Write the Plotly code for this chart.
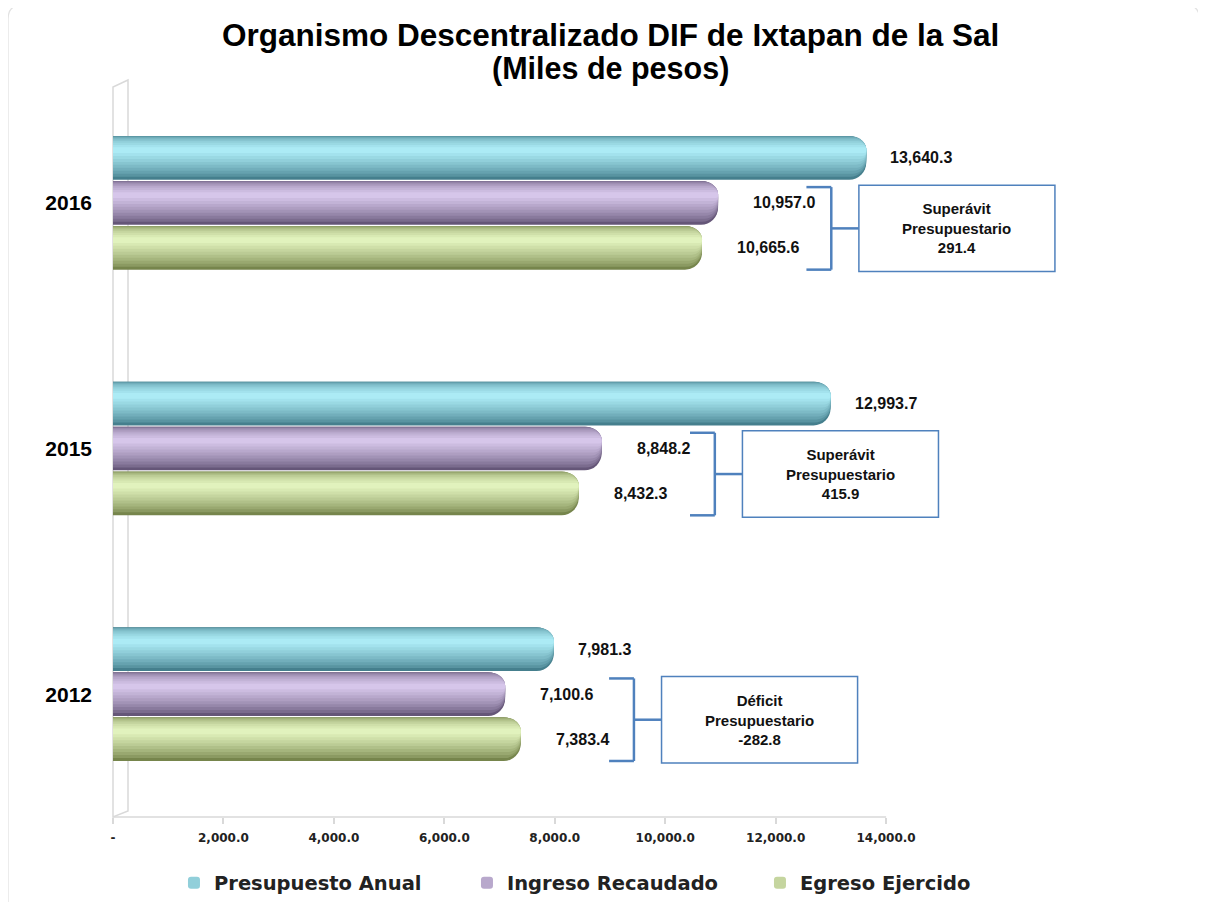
import plotly.graph_objects as go

# valores en miles de pesos
years = ["2012", "2015", "2016"]
presupuesto = [7981.3, 12993.7, 13640.3]
ingreso = [7100.6, 8848.2, 10957.0]
egreso = [7383.4, 8432.3, 10665.6]
series_names = ["Presupuesto Anual", "Ingreso Recaudado", "Egreso Ejercido"]
result_titles = ["Déficit", "Superávit", "Superávit"]
xticks = [0, 2000, 4000, 6000, 8000, 10000, 12000, 14000]
title_lines = ["Organismo Descentralizado DIF de Ixtapan de la Sal", "(Miles de pesos)"]

W, H = 1206, 906
OFF = 8  # page body margin, positions below are in screen pixels
L, R, T, B = 113 - OFF, 106.5, 80 - OFF, 906 - (817 - OFF)
pw, ph = W - L - R, H - T - B


def px(x):
    return (x - OFF - L) / pw


def py(y):
    return (H - B - (y - OFF)) / ph


def mix(c1, c2, t):
    a = [int(c1[i:i + 2], 16) for i in (1, 3, 5)]
    b = [int(c2[i:i + 2], 16) for i in (1, 3, 5)]
    return "#" + "".join(f"{round(p + (q - p) * t):02x}" for p, q in zip(a, b))


bar_h = 0.178
step = 0.183
# dark / light ends of each cylinder shading
shades = {
    "Presupuesto Anual": ("#457f8d", "#b4f4fe"),
    "Ingreso Recaudado": ("#655678", "#dfcff3"),
    "Egreso Ejercido": ("#76854c", "#eafbc6"),
}
n_layers = 10
hl = 0.32  # highlight position from the top of the bar

ypos = list(range(len(years)))
series = [presupuesto, ingreso, egreso]
offsets = [step, 0.0, -step]

fig = go.Figure()
for name, vals, off in zip(series_names, series, offsets):
    dark, light = shades[name]
    for k in range(n_layers):
        t = k / n_layers
        top = hl * t ** 2          # fraction from top
        bot = 1 - (1 - hl) * t     # fraction from top
        w = bar_h * (bot - top)
        start = off + bar_h / 2 - bot * bar_h
        fig.add_trace(go.Bar(
            x=vals, y=ypos, orientation="h",
            width=w, offset=start,
            marker=dict(color=mix(dark, light, t ** 0.75), line=dict(width=0),
                        cornerradius="40%"),
            name=name, legendgroup=name, showlegend=(k == 6),
            hoverinfo="x+name",
        ))

annotations = []
label_shift = [22, 33, 33]
for vals, off, xs in zip(series, offsets, label_shift):
    for i, v in enumerate(vals):
        annotations.append(dict(
            x=v, y=i + off, xref="x", yref="y", text=f"{v:,.1f}",
            xanchor="left", yanchor="middle", xshift=xs, showarrow=False,
            font=dict(family="Liberation Sans, Arial", size=16, color="#111", weight="bold"),
        ))

shapes = []
line_c = "#4f81bd"
for i in ypos:
    diff = ingreso[i] - egreso[i]
    top = i + bar_h / 2 - 0.025
    bot = i - step - bar_h / 2
    mid = (top + bot) / 2
    bx = max(ingreso[i], egreso[i]) + 2050
    for x0, y0, x1, y1 in [(bx, bot, bx, top), (bx - 450, top, bx, top),
                           (bx - 450, bot, bx, bot), (bx, mid, bx + 500, mid)]:
        shapes.append(dict(type="line", xref="x", yref="y", x0=x0, y0=y0, x1=x1, y1=y1,
                           line=dict(color=line_c, width=2.5)))
    shapes.append(dict(type="rect", xref="x", yref="y", x0=bx + 500, x1=bx + 4050,
                       y0=bot - 0.008, y1=top + 0.008, line=dict(color=line_c, width=1.5),
                       fillcolor="white"))
    annotations.append(dict(
        x=bx + 2275, y=mid, xref="x", yref="y", showarrow=False,
        text=f"{result_titles[i]}<br>Presupuestario<br>{diff:,.1f}",
        font=dict(family="Liberation Sans, Arial", size=15, color="#111", weight="bold"),
    ))

# title, two lines
for line, yc, size in zip(title_lines, [35, 68], [31.5, 30.5]):
    annotations.append(dict(
        x=0.5, xref="paper", y=py(yc), yref="paper", xanchor="center", yanchor="middle",
        showarrow=False, text=line,
        font=dict(family="Liberation Sans, Arial", size=size, color="#000", weight="bold"),
    ))

# 3D wall and floor
wall = (f"M {px(113)},{py(817)} L {px(113)},{py(87)} L {px(128)},{py(80)} "
        f"L {px(128)},{py(811)} Z")
shapes.append(dict(type="path", xref="paper", yref="paper", path=wall,
                   line=dict(color="#d9d9d9", width=1.5), layer="below"))
shapes.append(dict(type="line", xref="x", yref="paper", x0=0, x1=14000, y0=0, y1=0,
                   line=dict(color="#d9d9d9", width=1.5)))
# chart frame
frame = (f"M {px(8)},{py(902)} L {px(8)},{py(19)} Q {px(8)},{py(5)} {px(22)},{py(5)} "
         f"L {px(1186)},{py(5)} Q {px(1200)},{py(5)} {px(1200)},{py(19)} L {px(1200)},{py(60)}")
shapes.append(dict(type="path", xref="paper", yref="paper", path=frame,
                   line=dict(color="#e2e2e2", width=1.2)))

fig.update_layout(
    width=W, height=H,
    margin=dict(l=L, r=R, t=T, b=B),
    paper_bgcolor="white", plot_bgcolor="white",
    barmode="overlay",
    xaxis=dict(
        range=[0, pw / 0.05525], showgrid=False, zeroline=False, showline=False,
        tickvals=xticks, ticktext=["-" if t == 0 else f"{t:,.1f}" for t in xticks],
        ticks="outside", ticklen=6, tickcolor="#d9d9d9", tickwidth=1.5,
        ticklabelstandoff=4,
        tickfont=dict(family="DejaVu Sans", size=12, color="#222", weight="bold"),
    ),
    yaxis=dict(
        range=[-0.5, 2.5], showgrid=False, zeroline=False, showline=False,
        tickvals=ypos, ticktext=years, ticks="", ticklabelstandoff=20,
        tickfont=dict(family="Liberation Sans, Arial", size=21, color="#000", weight="bold"),
    ),
    legend=dict(
        orientation="h", x=px(174), xanchor="left", y=py(883), yanchor="middle",
        entrywidth=248, entrywidthmode="pixels", itemwidth=30,
        font=dict(family="DejaVu Sans", size=19.5, color="#222", weight="bold"),
        traceorder="normal",
    ),
    annotations=annotations,
    shapes=shapes,
)

fig.write_html("out.html")
